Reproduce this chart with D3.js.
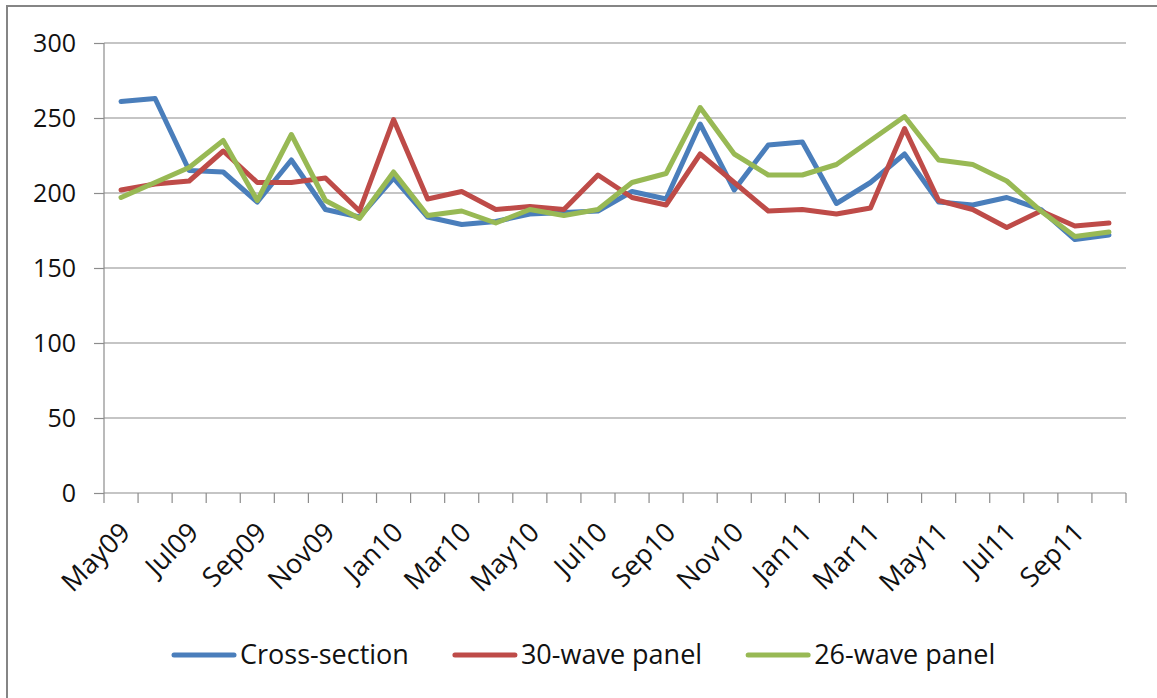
<!DOCTYPE html>
<html>
<head>
<meta charset="utf-8">
<script src="https://cdn.jsdelivr.net/npm/d3@7"></script>
<style>
  body { margin: 0; background: #fff; }
  svg text { font-family: "Open Sans", sans-serif; fill: #111; }
</style>
</head>
<body>
<svg id="chart"></svg>
<script>
// months on the category axis
var months = ["May09","Jun09","Jul09","Aug09","Sep09","Oct09","Nov09","Dec09",
  "Jan10","Feb10","Mar10","Apr10","May10","Jun10","Jul10","Aug10","Sep10","Oct10","Nov10","Dec10",
  "Jan11","Feb11","Mar11","Apr11","May11","Jun11","Jul11","Aug11","Sep11","Oct11"];

// series values
var crossSection = [261, 263, 215, 214, 194, 222, 189, 184, 210, 184, 179, 181, 186, 187, 188,
  201, 196, 246, 202, 232, 234, 193, 207, 226, 194, 192, 197, 189, 169, 172];
var wave30 = [202, 206, 208, 228, 207, 207, 210, 188, 249, 196, 201, 189, 191, 189, 212,
  197, 192, 226, 207, 188, 189, 186, 190, 243, 195, 189, 177, 188, 178, 180];
var wave26 = [197, 207, 217, 235, 195, 239, 195, 183, 214, 185, 188, 180, 189, 185, 189,
  207, 213, 257, 226, 212, 212, 219, 235, 251, 222, 219, 208, 188, 171, 174];

var seriesNames = ["Cross-section", "30-wave panel", "26-wave panel"];
var seriesColors = ["#4A7EBB", "#BE4B48", "#98B954"];
var yTicks = [0, 50, 100, 150, 200, 250, 300];

var width = 1157, height = 698;
var plotLeft = 104, plotRight = 1126, plotTop = 43, plotBottom = 493;

var svg = d3.select("#chart")
  .attr("width", width)
  .attr("height", height);

//outer frame, cut by the page edge
svg.append("rect")
  .attr("x", 7).attr("y", 6)
  .attr("width", width + 20).attr("height", height + 20)
  .attr("fill", "none")
  .attr("stroke", "#858585")
  .attr("stroke-width", 2);

var xScale = d3.scaleBand()
  .domain(months)
  .range([plotLeft, plotRight]);

var yScale = d3.scaleLinear()
  .domain([0, 300])
  .range([plotBottom, plotTop]);

//gridlines
svg.append("g")
  .selectAll("line")
  .data(yTicks.filter(function(d) { return d > 0; }))
  .enter()
  .append("line")
  .attr("x1", plotLeft).attr("x2", plotRight)
  .attr("y1", function(d) { return yScale(d); })
  .attr("y2", function(d) { return yScale(d); })
  .attr("stroke", "#8c8c8c")
  .attr("stroke-width", 1.2);

//Y axis
var yAxis = d3.axisLeft(yScale)
  .tickValues(yTicks)
  .tickSize(10)
  .tickPadding(18);

var gy = svg.append("g")
  .attr("transform", "translate(" + plotLeft + ",0)")
  .call(yAxis);
gy.selectAll("line, path").attr("stroke", "#8c8c8c").attr("stroke-width", 1.2);
gy.select("path").attr("d", "M0," + plotTop + "V" + plotBottom);
gy.selectAll("text")
  .attr("font-size", "25px")
  .attr("font-family", "Open Sans, sans-serif")
  .attr("fill", "#111");

//X axis: ticks on category boundaries
var boundaries = months.map(function(m) { return xScale(m); }).concat([xScale.range()[1]]);
var gx = svg.append("g");
gx.append("line")
  .attr("x1", plotLeft).attr("x2", plotRight)
  .attr("y1", plotBottom).attr("y2", plotBottom)
  .attr("stroke", "#8c8c8c").attr("stroke-width", 1.2);
gx.selectAll("line.tick")
  .data(boundaries)
  .enter()
  .append("line")
  .attr("class", "tick")
  .attr("x1", function(d) { return d; }).attr("x2", function(d) { return d; })
  .attr("y1", plotBottom).attr("y2", plotBottom + 10)
  .attr("stroke", "#8c8c8c").attr("stroke-width", 1.2);

//every other month labelled, rotated
gx.selectAll("text")
  .data(months.filter(function(d, i) { return i % 2 === 0; }))
  .enter()
  .append("text")
  .attr("text-anchor", "end")
  .attr("font-size", "27px")
  .attr("transform", function(d) {
    var x = xScale(d) + xScale.bandwidth() / 2 + 11;
    return "translate(" + x + "," + (plotBottom + 41) + ") rotate(-45)";
  })
  .text(function(d) { return d; });

//lines
var line = d3.line()
  .x(function(d, i) { return xScale(months[i]) + xScale.bandwidth() / 2; })
  .y(function(d) { return yScale(d); });

[crossSection, wave30, wave26].forEach(function(s, k) {
  svg.append("path")
    .datum(s)
    .attr("fill", "none")
    .attr("stroke", seriesColors[k])
    .attr("stroke-width", 5)
    .attr("stroke-linejoin", "round")
    .attr("stroke-linecap", "round")
    .attr("d", line);
});

//legend
var lx = 172, ly = 655;
seriesNames.forEach(function(name, k) {
  var g = svg.append("g").attr("transform", "translate(" + lx + "," + ly + ")");
  g.append("line")
    .attr("x1", 2).attr("x2", 62)
    .attr("stroke", seriesColors[k])
    .attr("stroke-width", 5)
    .attr("stroke-linecap", "round");
  var t = g.append("text")
    .attr("x", 68)
    .attr("dy", "0.35em")
    .attr("font-size", "27px")
    .text(name);
  lx += 68 + t.node().getComputedTextLength() + 44;
});
</script>
</body>
</html>
